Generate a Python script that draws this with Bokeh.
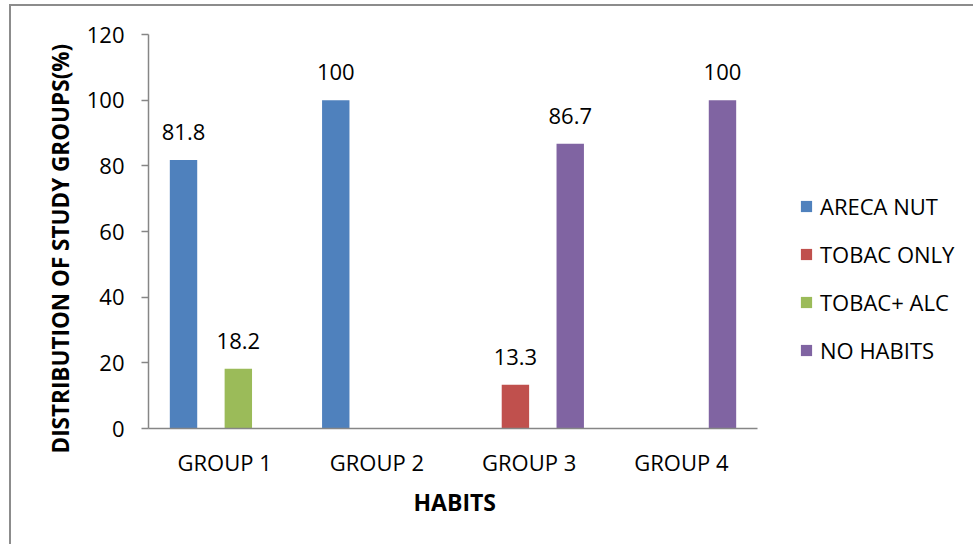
from bokeh.plotting import figure
from bokeh.models import (ColumnDataSource, LabelSet, Legend, LegendItem, Range1d,
                          FixedTicker, Title)
from bokeh.core.properties import value
from bokeh.transform import dodge
from bokeh.embed import file_html
from bokeh.resources import INLINE

# Habits by study group (%)
groups = ["GROUP 1", "GROUP 2", "GROUP 3", "GROUP 4"]
series = ["ARECA NUT", "TOBAC ONLY", "TOBAC+ ALC", "NO HABITS"]
areca_nut = [81.8, 100, 0, 0]
tobac_only = [0, 0, 13.3, 0]
tobac_alc = [18.2, 0, 0, 0]
no_habits = [0, 0, 86.7, 100]
y_ticks = [0, 20, 40, 60, 80, 100, 120]

values = [areca_nut, tobac_only, tobac_alc, no_habits]
colors = ["#4F81BD", "#C0504D", "#9BBB59", "#8064A2"]
offsets = [-0.27, -0.09, 0.09, 0.27]
bar_width = 0.18

FONT = "Open Sans"
GREY = "#868686"

# each group occupies one unit; the frame runs on to the right edge so the
# legend can sit inside it, while the x axis line stops after the last group
centers = [i + 0.5 for i in range(len(groups))]
n = len(groups)
frame_left, axis_right, canvas_right = 148, 757, 975
x_end = n * (canvas_right - frame_left) / (axis_right - frame_left)

p = figure(
    x_range=Range1d(0, x_end), y_range=Range1d(0, 120),
    width=964, height=540,
    output_backend="svg", toolbar_location=None,
    min_border_left=137, min_border_right=0,
    min_border_top=28, min_border_bottom=118,
)
p.styles = {
    "margin-left": "9px", "margin-top": "4px",
    "border-top": "2px solid #8c8c8c", "border-left": "2px solid #8c8c8c",
}
p.background_fill_color = "white"
p.border_fill_color = "white"
p.outline_line_color = None
p.grid.visible = False

items = []
for name, vals, col, off in zip(series, values, colors, offsets):
    xs = [c for c, v in zip(centers, vals) if v > 0]
    vs = [v for v in vals if v > 0]
    src = ColumnDataSource(dict(x=xs, v=vs, t=[f"{v:g}" for v in vs]))
    r = p.vbar(x=dodge("x", off), top="v", width=bar_width,
               source=src, fill_color=col, line_color=None)
    items.append(LegendItem(label=name, renderers=[r]))
    p.add_layout(LabelSet(
        x=dodge("x", off), y="v", text="t", source=src,
        text_align="center", text_baseline="alphabetic", y_offset=20,
        text_font=value(FONT), text_font_size="22px", text_color="black",
    ))

legend = Legend(items=items, location=(651, 63))
legend.padding = 0
legend.margin = 0
legend.border_line_color = None
legend.background_fill_alpha = 0
legend.glyph_width = 14
legend.glyph_height = 14
legend.label_standoff = 7
legend.spacing = 18
legend.label_text_font = FONT
legend.label_text_font_size = "22px"
legend.label_text_color = "black"
p.add_layout(legend, "center")

for ax in (p.xaxis, p.yaxis):
    ax.axis_line_color = GREY
    ax.axis_line_width = 1.5
    ax.major_label_text_font = FONT
    ax.major_label_text_font_size = "22px"
    ax.major_label_text_color = "black"
    ax.minor_tick_line_color = None

p.xaxis.ticker = FixedTicker(ticks=centers)
p.xaxis.major_label_overrides = {c: g for c, g in zip(centers, groups)}
p.xaxis.bounds = (0, n)
p.xaxis.major_tick_line_color = None
p.xaxis.major_tick_out = 0
p.xaxis.major_label_standoff = 18

p.yaxis.ticker = FixedTicker(ticks=y_ticks)
p.yaxis.major_tick_line_color = GREY
p.yaxis.major_tick_line_width = 1.5
p.yaxis.major_tick_out = 7
p.yaxis.major_tick_in = 0
p.yaxis.major_label_standoff = 17

title_style = dict(text_font=FONT, text_font_style="bold", text_color="black")

# x title centred under the four groups rather than the whole frame
p.add_layout(Title(text="HABITS", align="left", offset=265,
                   vertical_align="top", standoff=12,
                   text_font_size="23px", **title_style), "below")

# vertical title left of the y axis, anchored a little below the baseline
p.add_layout(Title(text="DISTRIBUTION OF STUDY GROUPS(%)", align="left",
                   offset=-25, standoff=16,
                   text_font_size="22.5px", **title_style), "left")

open("out.html", "w").write(file_html(p, INLINE))
